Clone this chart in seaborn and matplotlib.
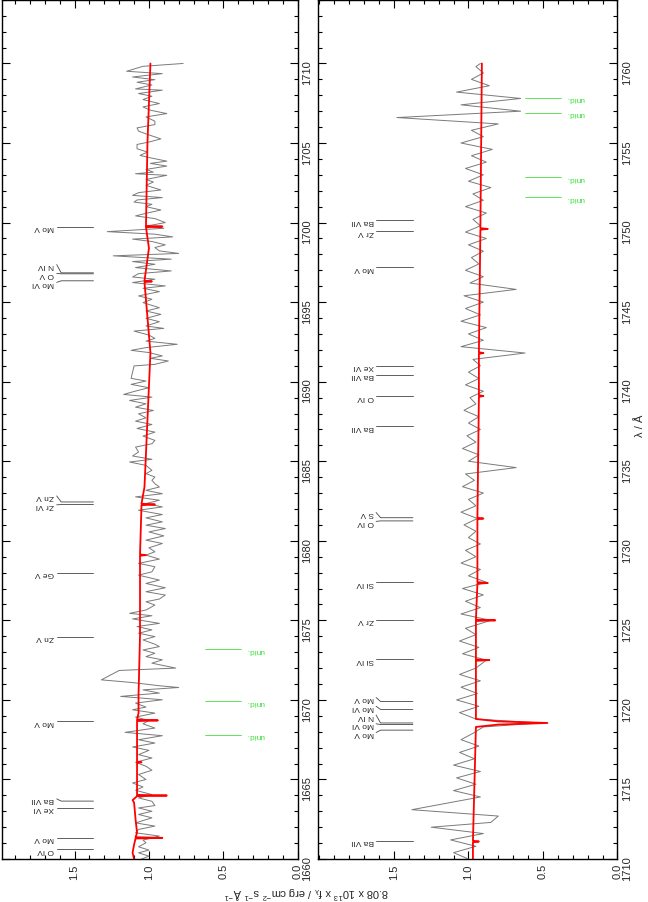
import matplotlib
matplotlib.use("Agg")
import matplotlib.pyplot as plt
import seaborn as sns
from matplotlib.ticker import MultipleLocator

sns.set_theme(style="ticks")
plt.rcParams['font.family'] = ['Liberation Sans', 'DejaVu Sans']
plt.rcParams['mathtext.default'] = 'regular'

lam_obs_1 = [1710.00, 1709.82, 1709.51, 1709.36, 1709.15, 1708.98, 1708.82, 1708.65, 1708.40, 1708.32,
             1708.11, 1707.94, 1707.73, 1707.48, 1707.27, 1707.06, 1706.85, 1706.64, 1706.37, 1706.16,
             1705.95, 1705.75, 1705.54, 1705.26, 1705.06, 1704.91, 1704.64, 1704.43, 1704.22, 1704.07,
             1703.86, 1703.72, 1703.55, 1703.34, 1703.17, 1703.07, 1702.97, 1702.71, 1702.55, 1702.34,
             1702.05, 1701.88, 1701.71, 1701.57, 1701.42, 1701.29, 1701.15, 1701.00, 1700.79, 1700.58,
             1700.42, 1700.25, 1700.00, 1699.79, 1699.64, 1699.43, 1699.27, 1699.10, 1698.96, 1698.81,
             1698.60, 1698.43, 1698.22, 1698.06, 1697.91, 1697.70, 1697.55, 1697.38, 1697.17, 1696.96,
             1696.79, 1696.58, 1696.44, 1696.23, 1696.02, 1695.87, 1695.66, 1695.39, 1695.18, 1694.97,
             1694.65, 1694.44, 1694.23, 1693.98, 1693.77, 1693.50, 1693.35, 1693.18, 1692.93, 1692.72,
             1692.55, 1692.35, 1692.14, 1691.97, 1691.83, 1691.62, 1691.47, 1691.30, 1691.09, 1690.99,
             1690.21, 1690.04, 1689.83, 1689.62, 1689.41, 1689.20, 1689.03, 1688.82, 1688.61, 1688.40,
             1688.19, 1687.98, 1687.73, 1687.52, 1687.31, 1687.06, 1686.83, 1686.58, 1686.31, 1686.10,
             1685.89, 1685.58, 1685.33, 1685.12, 1684.95, 1684.74, 1684.43, 1684.22, 1684.01, 1683.80,
             1683.59, 1683.38, 1683.17, 1682.96, 1682.76, 1682.55, 1682.34, 1682.13, 1681.92, 1681.65,
             1681.44, 1681.19, 1680.98, 1680.77, 1680.56, 1680.31, 1680.04, 1679.83, 1679.56, 1679.31,
             1679.10, 1678.85, 1678.58, 1678.37, 1678.05, 1677.84, 1677.53, 1677.32, 1677.05, 1676.80,
             1676.59, 1676.34, 1676.17, 1675.96, 1675.65, 1675.44, 1675.29, 1675.09, 1674.81, 1674.61,
             1674.40, 1674.19, 1673.98, 1673.77, 1673.50, 1673.35, 1673.14, 1672.93, 1672.72, 1672.52,
             1672.31, 1672.00, 1671.85, 1671.26, 1671.09, 1670.89, 1670.78, 1670.63, 1670.43, 1670.22,
             1670.01, 1669.80, 1669.55, 1669.38, 1669.17, 1668.92, 1668.71, 1668.50, 1668.23, 1667.96,
             1667.75, 1667.50, 1667.29, 1667.04, 1666.83, 1666.56, 1666.35, 1666.08, 1665.83, 1665.58,
             1665.31, 1665.00, 1664.78, 1664.53, 1664.32, 1664.05, 1663.84, 1663.63, 1663.36, 1663.21,
             1663.00, 1662.80, 1662.59, 1662.27, 1662.07, 1661.86, 1661.65, 1661.44, 1661.19, 1661.02,
             1660.77, 1660.56, 1660.39, 1660.18, 1660.00]
flux_obs_1 = [0.77, 1.04, 1.15, 0.91, 1.11, 0.96, 1.08, 0.98, 1.09, 0.91,
              1.07, 0.98, 1.04, 0.93, 1.04, 0.99, 0.88, 1.02, 0.96, 0.96,
              1.08, 1.07, 1.01, 0.92, 1.00, 1.08, 1.08, 1.01, 1.06, 0.99,
              0.88, 0.99, 0.88, 1.02, 0.97, 1.09, 0.88, 1.02, 0.97, 1.02,
              0.92, 1.07, 1.11, 0.91, 1.08, 1.10, 0.98, 1.02, 0.92, 1.02,
              1.09, 0.96, 0.89, 1.01, 0.90, 1.28, 0.96, 0.84, 1.11, 0.98,
              0.89, 0.96, 0.93, 0.80, 1.24, 0.85, 1.11, 0.96, 1.09, 0.85,
              1.07, 1.11, 0.96, 1.11, 0.89, 1.04, 0.93, 1.07, 0.98, 1.04,
              0.93, 1.02, 0.92, 1.02, 0.93, 1.02, 0.90, 1.10, 1.00, 0.96,
              1.02, 0.81, 1.02, 1.12, 1.00, 0.91, 0.99, 0.87, 0.96, 1.10,
              1.12, 1.02, 1.12, 1.00, 1.09, 1.17, 0.98, 1.13, 1.02, 1.09,
              0.97, 1.07, 1.02, 1.09, 0.98, 1.08, 0.96, 1.04, 0.96, 0.98,
              1.09, 1.07, 1.11, 0.98, 1.13, 1.02, 0.98, 1.02, 0.96, 0.98,
              0.96, 0.93, 1.02, 0.91, 1.09, 0.93, 1.02, 0.91, 1.07, 0.91,
              1.02, 0.91, 1.02, 0.89, 1.00, 0.90, 1.02, 0.91, 1.00, 0.96,
              1.02, 0.93, 1.07, 0.96, 0.98, 1.07, 0.93, 1.02, 0.89, 1.02,
              0.89, 0.93, 1.02, 0.96, 1.02, 1.13, 0.98, 1.11, 0.93, 1.08,
              0.98, 1.07, 0.96, 1.04, 0.96, 0.93, 1.04, 0.96, 1.02, 0.91,
              0.98, 0.82, 1.20, 1.32, 1.11, 0.93, 0.80, 1.04, 0.93, 1.19,
              0.91, 1.09, 1.02, 1.11, 0.96, 1.09, 1.00, 1.04, 0.96, 1.16,
              0.91, 1.07, 0.96, 1.11, 1.00, 1.07, 0.98, 1.09, 1.02, 0.98,
              1.07, 1.02, 1.11, 1.04, 1.09, 0.98, 1.07, 0.98, 0.96, 1.07,
              0.98, 1.07, 0.98, 1.09, 0.96, 1.07, 1.09, 0.93, 1.04, 1.02,
              1.07, 1.00, 1.07, 1.00, 1.05]

# model spectrum, panel 1 (continuum + line cores)
lam_mod_1 = [1660.00, 1660.40, 1660.90, 1661.29, 1661.33, 1661.37, 1661.65, 1662.50, 1663.55, 1663.70,
             1663.95, 1663.99, 1664.03, 1666.04, 1666.08, 1666.12, 1668.67, 1668.71, 1668.75, 1669.17,
             1670.32, 1674.08, 1679.06, 1679.10, 1679.14, 1682.24, 1682.28, 1682.33, 1683.38, 1691.82,
             1696.26, 1696.30, 1696.34, 1698.39, 1699.71, 1699.75, 1699.79, 1705.00, 1710.00]
flux_mod_1 = [1.10, 1.11, 1.10, 1.09, 0.91, 1.09, 1.08, 1.09, 1.10, 1.11,
              1.08, 0.88, 1.08, 1.08, 1.05, 1.08, 1.08, 0.94, 1.08, 1.07,
              1.07, 1.06, 1.06, 1.02, 1.06, 1.05, 0.96, 1.05, 1.03, 0.99,
              1.03, 0.98, 1.03, 1.00, 1.02, 0.91, 1.02, 1.01, 0.99]

# ---- panel 2: 1710-1760 A ----
lam_obs_2 = [1710.0, 1710.4, 1710.8, 1711.2, 1711.6, 1712.0, 1712.3, 1712.7, 1713.1, 1713.5,
             1713.9, 1714.3, 1714.7, 1715.1, 1715.5, 1715.9, 1716.3, 1716.7, 1717.1, 1717.5,
             1717.9, 1718.3, 1718.55, 1718.8, 1719.2, 1719.6, 1720.0, 1720.4, 1720.8, 1721.2,
             1721.6, 1722.0, 1722.5, 1722.9, 1723.3, 1723.7, 1724.1, 1724.5, 1725.0, 1725.4,
             1725.8, 1726.2, 1726.6, 1727.0, 1727.4, 1727.8, 1728.2, 1728.6, 1729.0, 1729.4,
             1729.8, 1730.2, 1730.6, 1731.0, 1731.4, 1731.8, 1732.2, 1732.6, 1733.0, 1733.4,
             1733.8, 1734.2, 1734.6, 1735.0, 1735.4, 1735.8, 1736.2, 1736.6, 1737.0, 1737.4,
             1737.8, 1738.2, 1738.6, 1739.0, 1739.4, 1739.8, 1740.2, 1740.6, 1741.0, 1741.4,
             1741.8, 1742.2, 1742.6, 1743.0, 1743.4, 1743.8, 1744.2, 1744.6, 1745.0, 1745.4,
             1745.8, 1746.2, 1746.6, 1747.0, 1747.4, 1747.8, 1748.2, 1748.6, 1749.0, 1749.4,
             1749.8, 1750.2, 1750.6, 1751.0, 1751.4, 1751.8, 1752.2, 1752.6, 1753.0, 1753.4,
             1753.8, 1754.2, 1754.6, 1755.0, 1755.4, 1755.8, 1756.2, 1756.6, 1757.0, 1757.4,
             1757.8, 1758.2, 1758.6, 1759.0, 1759.4, 1759.8, 1760.0]
flux_obs_2 = [1.00, 1.10, 0.95, 1.12, 0.90, 1.25, 0.85, 0.80, 1.38, 1.15,
              0.92, 1.10, 0.95, 1.08, 0.92, 1.10, 0.96, 1.06, 0.93, 1.05,
              0.97, 0.90, 0.52, 0.95, 1.06, 0.93, 1.08, 0.94, 1.05, 0.92,
              1.06, 0.95, 0.88, 1.04, 0.93, 1.06, 0.95, 1.02, 0.85, 1.05,
              0.92, 1.02, 0.90, 1.04, 0.88, 1.00, 0.92, 1.05, 0.95, 1.02,
              0.92, 1.00, 0.95, 1.03, 0.94, 1.05, 0.95, 1.00, 0.90, 1.04,
              0.96, 1.02, 0.68, 1.00, 0.93, 1.04, 0.95, 1.01, 0.92, 1.00,
              0.93, 1.03, 0.95, 0.99, 0.90, 1.02, 0.93, 1.00, 0.92, 0.97,
              0.62, 1.05, 0.90, 1.00, 0.88, 1.05, 0.92, 1.02, 0.90, 1.03,
              0.68, 0.99, 0.90, 1.02, 0.93, 0.98, 0.90, 1.00, 0.88, 1.02,
              0.92, 0.97, 0.88, 1.02, 0.90, 0.97, 0.85, 1.00, 0.90, 1.02,
              0.88, 0.98, 0.84, 1.05, 0.90, 0.98, 0.80, 1.48, 0.65, 1.05,
              0.65, 1.08, 0.86, 0.98, 0.90, 0.95, 0.92]

lam_mod_2 = [1710.0, 1711.05, 1711.1, 1711.15, 1718.3, 1718.45, 1718.55, 1718.65, 1718.8, 1722.46,
             1722.5, 1722.54, 1724.96, 1725.0, 1725.04, 1727.3, 1727.35, 1727.4, 1731.35, 1731.4,
             1731.45, 1739.05, 1739.1, 1739.15, 1741.75, 1741.8, 1741.85, 1749.55, 1749.6, 1749.65,
             1760.0]
flux_mod_2 = [0.97, 0.97, 0.93, 0.97, 0.95, 0.80, 0.47, 0.80, 0.95, 0.95,
              0.86, 0.95, 0.95, 0.82, 0.95, 0.94, 0.87, 0.94, 0.94, 0.90,
              0.94, 0.93, 0.90, 0.93, 0.93, 0.90, 0.93, 0.92, 0.87, 0.92,
              0.91]

# ---- line identifications: name, line wavelength, label wavelength ----
ion_1 = ["O IV", "Mo V", "Xe VI", "Ba VII", "Mo V", "Zn V", "Ge V", "Zr VI", "Zn V",
         "Mo VI", "O V", "N IV", "Mo V"]
lam_line_1 = [1660.60, 1661.33, 1663.22, 1663.64, 1668.65, 1673.98, 1678.00, 1682.28, 1682.44,
              1696.34, 1696.78, 1696.84, 1699.75]
lam_lab_1 = [1660.60, 1661.33, 1663.22, 1663.78, 1668.65, 1673.98, 1678.00, 1682.26, 1682.82,
             1696.24, 1696.80, 1697.36, 1699.75]
unid_1 = [1667.81, 1669.90, 1673.18]

ion_2 = ["Ba VII", "Mo V", "Mo VI", "N IV", "Mo VI", "Mo V", "Si IV", "Zr V", "Si IV",
         "O IV", "S V", "Ba VII", "O IV", "Ba VII", "Xe VI", "Mo V", "Zr V", "Ba VII"]
lam_line_2 = [1711.15, 1718.10, 1718.45, 1718.55, 1719.40, 1719.90, 1722.55, 1725.05, 1727.40,
              1731.25, 1731.45, 1737.20, 1739.10, 1740.45, 1741.00, 1747.20, 1749.45, 1750.15]
lam_lab_2 = [1711.15, 1717.95, 1718.50, 1719.05, 1719.60, 1720.15, 1722.55, 1725.05, 1727.40,
             1731.22, 1731.78, 1737.20, 1739.10, 1740.45, 1741.00, 1747.20, 1749.45, 1750.15]
unid_2 = [1751.60, 1752.85, 1756.90, 1757.85]

GRAY = "#7a7a7a"
GREEN = "#44e044"

fig = plt.figure(figsize=(6.48, 9.03), dpi=100)
ax1 = fig.add_axes([0.0026, 0.0476, 0.4568, 0.9515])
ax2 = fig.add_axes([0.4907, 0.0476, 0.4622, 0.9515])


def draw_panel(ax, lam_obs, flux_obs, lam_mod, flux_mod, ions, lam_line, lam_lab, unids, lam_lo, xlim):
    sns.lineplot(x=flux_obs, y=lam_obs, sort=False, estimator=None, orient="y",
                 color=GRAY, lw=0.7, ax=ax)
    sns.lineplot(x=flux_mod, y=lam_mod, sort=False, estimator=None, orient="y",
                 color="red", lw=1.3, ax=ax)

    for name, ll, lb in zip(ions, lam_line, lam_lab):
        ax.plot([1.373, 1.59, 1.62], [ll, ll, lb], color="#444444", lw=0.6)
        ax.text(1.635, lb, name, rotation=180, rotation_mode="anchor",
                ha="left", va="center", fontsize=6)
    for lu in unids:
        ax.plot([0.378, 0.622], [lu, lu], color=GREEN, lw=0.6)
        ax.text(0.347, lu, "unid.", rotation=180, rotation_mode="anchor",
                ha="right", va="center", fontsize=6, color=GREEN)

    ax.set_xlim(*xlim)
    ax.set_ylim(lam_lo, lam_lo + 54)
    ax.set_xticks([0.0, 0.5, 1.0, 1.5])
    ax.xaxis.set_minor_locator(MultipleLocator(0.1))
    ax.set_yticks(range(lam_lo, lam_lo + 51, 5))
    ax.yaxis.set_minor_locator(MultipleLocator(1))
    ax.tick_params(which="both", direction="in", top=True, bottom=True, left=True, right=True,
                   labelleft=False, labelright=True, color="black", width=0.8)
    ax.tick_params(which="major", length=5.5, labelsize=8, labelrotation=90, pad=3)
    ax.tick_params(which="minor", length=3.2)
    ax.set_xlabel("")
    ax.set_ylabel("")
    for s in ax.spines.values():
        s.set_color("black")
        s.set_linewidth(1.0)


draw_panel(ax1, lam_obs_1, flux_obs_1, lam_mod_1, flux_mod_1, ion_1, lam_line_1, lam_lab_1,
           unid_1, 1660, (1.99, 0.015))
draw_panel(ax2, lam_obs_2, flux_obs_2, lam_mod_2, flux_mod_2, ion_2, lam_line_2, lam_lab_2,
           unid_2, 1710, (2.01, 0.0))

fig.text(0.473, 0.011, "8.08 x 10$^{13}$ x f$_{λ}$ / erg cm$^{-2}$ s$^{-1}$ Å$^{-1}$",
         rotation=180, ha="center", va="center", fontsize=8)
fig.text(0.988, 0.529, "λ / Å", rotation=90, ha="center", va="center", fontsize=8)

fig.savefig("out.png", dpi=100)
